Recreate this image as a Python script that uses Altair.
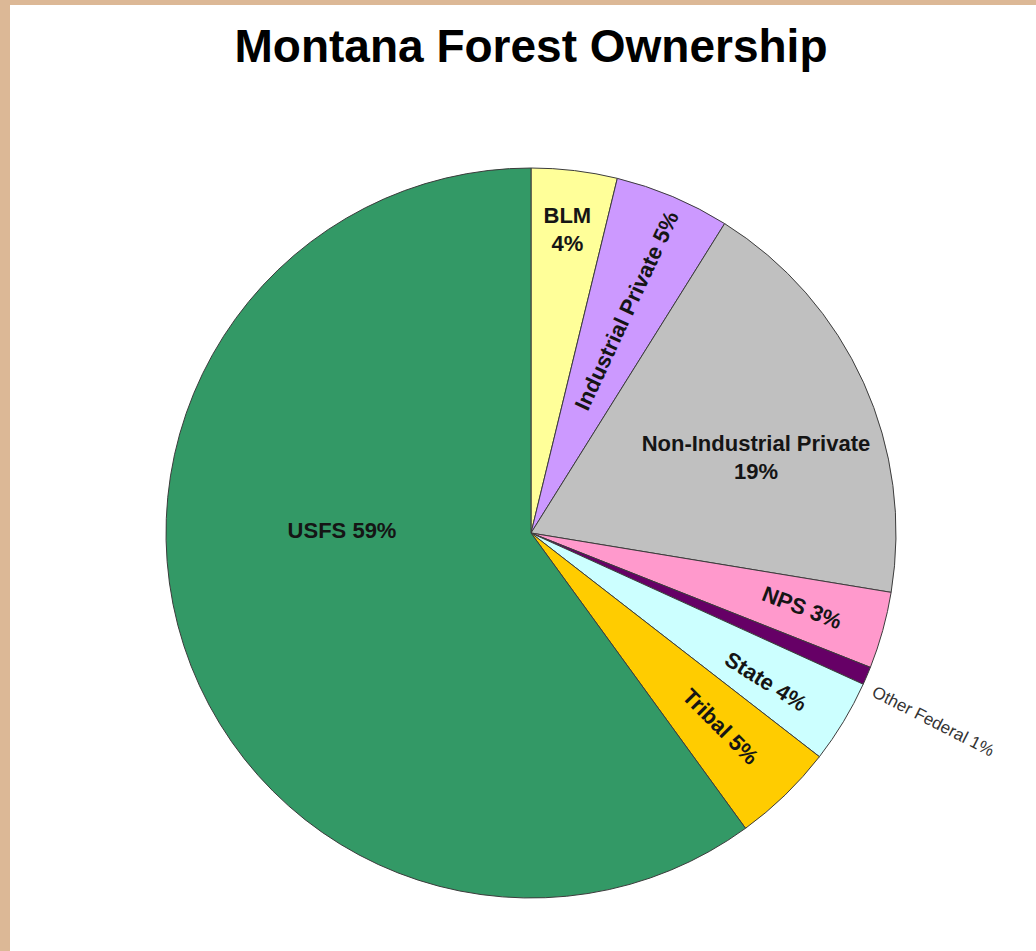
import altair as alt
import pandas as pd

# ---- data ----
names = ["BLM", "Industrial Private", "Non-Industrial Private", "NPS",
         "Other Federal", "State", "Tribal", "USFS"]
values = [3.8, 5.1, 18.7, 3.4, 0.8, 3.7, 4.5, 60.0]      # slice sizes (measured angles)
shown_pct = [4, 5, 19, 3, 1, 4, 5, 59]                   # percentages printed on labels
colors = ["#ffff99", "#cc99ff", "#c0c0c0", "#ff99cc",
          "#660066", "#ccffff", "#ffcc00", "#339966"]

# ---- label layout ----
label_sep = ["\n", " ", "\n", " ", " ", " ", " ", " "]
label_shift = [0, 0.15, 1.65, 0, 0.5, 0.35, -0.05, 5.2]   # in value units along the pie
label_radius = [305, 242, 237, 281, 377, 278, 271, 189]
label_angle = [0, 295, 0, 21, 27, 32, 45, 0]

W, H = 1036, 951
CX, CY = 531, 533
R = 365
FONT = "Liberation Sans"

rows = []
start = 0.0
for i, (n, v) in enumerate(zip(names, values)):
    rows.append({
        "idx": i,
        "name": n,
        "value": v,
        "label": f"{n}{label_sep[i]}{shown_pct[i]}%",
        "multi": label_sep[i] == "\n",
        "lpos": start + v / 2 + label_shift[i],
        "lr": label_radius[i],
        "rot": label_angle[i],
    })
    start += v
df = pd.DataFrame(rows)
total = sum(values)

page = alt.Chart(pd.DataFrame({"k": [0]})).mark_rect(color="white").encode(
    x=alt.value(10), x2=alt.value(W), y=alt.value(5), y2=alt.value(H)
)

pie = alt.Chart(df).mark_arc(outerRadius=R, stroke="#3c3c3c", strokeWidth=1).encode(
    theta=alt.Theta("value:Q", stack=True, scale=alt.Scale(domain=[0, total])),
    color=alt.Color("name:N", scale=alt.Scale(domain=names, range=colors), legend=None),
    order=alt.Order("idx:Q"),
    x=alt.value(CX),
    y=alt.value(CY),
)

text_enc = dict(
    theta=alt.Theta("lpos:Q", stack=None, scale=alt.Scale(domain=[0, total])),
    radius=alt.Radius("lr:Q", scale=None),
    angle=alt.Angle("rot:Q", scale=None),
    text="label:N",
    x=alt.value(CX),
    y=alt.value(CY),
)

labels = alt.Chart(df).transform_filter(
    (alt.datum.name != "Other Federal") & (alt.datum.multi == False)
).mark_text(
    font=FONT, fontSize=22, fontWeight="bold", color="#151515",
    align="center", baseline="middle"
).encode(**text_enc)

labels_multi = alt.Chart(df).transform_filter(alt.datum.multi == True).mark_text(
    font=FONT, fontSize=22, fontWeight="bold", color="#151515",
    lineBreak="\n", lineHeight=28, align="center", baseline="middle", dy=-14
).encode(**text_enc)

of_label = alt.Chart(df).transform_filter(alt.datum.name == "Other Federal").mark_text(
    font=FONT, fontSize=17, color="#333333",
    align="left", baseline="middle"
).encode(**text_enc)

chart = alt.layer(page, pie, labels, labels_multi, of_label).properties(
    width=W,
    height=H,
    title=alt.TitleParams(
        "Montana Forest Ownership", fontSize=46, font=FONT, fontWeight="bold",
        color="black", anchor="middle", frame="group", baseline="alphabetic",
        offset=-108, dx=13
    ),
    autosize=alt.AutoSizeParams(type="none"),
    padding=0,
    background="#dcb896",
).configure_view(strokeWidth=0)

chart.save("out.html", embed_options={"renderer": "svg", "actions": False})
